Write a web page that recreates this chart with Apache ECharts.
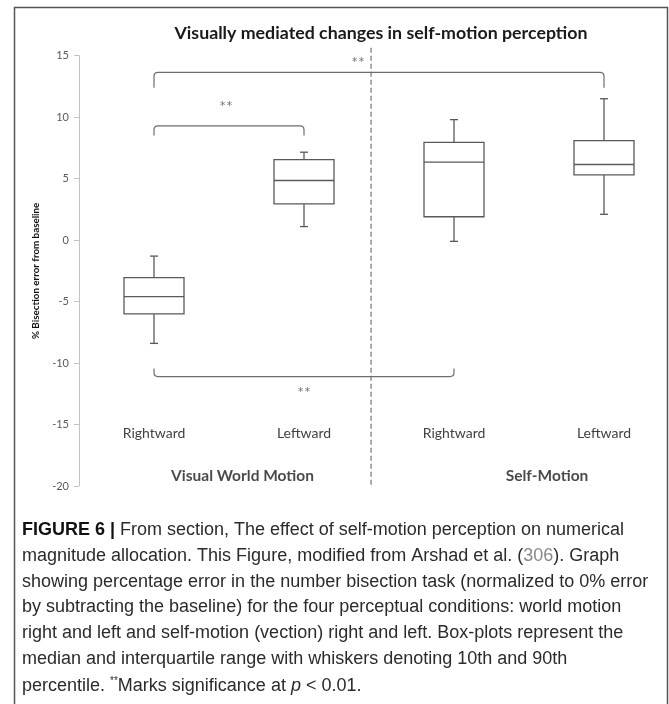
<!DOCTYPE html>
<html>
<head>
<meta charset="utf-8">
<script src="https://cdn.jsdelivr.net/npm/echarts@6/dist/echarts.min.js"></script>
<style>
  html, body { margin: 0; padding: 0; background: #fff; }
  #chart { width: 669px; height: 704px; }
</style>
</head>
<body>
<div id="chart"></div>
<script>
// Conditions, left to right
const categories = ['Rightward', 'Leftward', 'Rightward', 'Leftward'];
const groupNames = ['Visual World Motion', 'Self-Motion'];

// % bisection error from baseline: 10th pct, Q1, median, Q3, 90th pct
const p10    = [-8.4, 1.1, -0.1, 2.1];
const q1     = [-6.0, 2.95, 1.9, 5.3];
const median = [-4.6, 4.85, 6.35, 6.15];
const q3     = [-3.05, 6.55, 7.95, 8.1];
const p90    = [-1.3, 7.15, 9.8, 11.5];

// y axis ticks
const yTicks = [-20, -15, -10, -5, 0, 5, 10, 15];

// significance comparisons between conditions (category indices)
const comparisons = [
  { a: 0, b: 3, label: '**' },
  { a: 0, b: 1, label: '**' },
  { a: 0, b: 2, label: '**' }
];

// bracket layout in data units: bar level, tip level, label anchor
const bracketLayout = [
  { bar: 13.65, tip: 12.4, lx: 1.86, ly: 14.4 },
  { bar: 9.3, tip: 8.5, lx: 0.98, ly: 10.8 },
  { bar: -11.1, tip: -10.45, lx: 1.5, ly: -12.4 }
];

const lineColor = '#595959';
const uiFont = 'Lato, "Open Sans", sans-serif';

const boxData = categories.map((c, i) => [i, p10[i], q1[i], median[i], q3[i], p90[i]]);

function renderBox(params, api) {
  const i = api.value(0);
  const band = api.size([1, 0])[0];
  const half = band * 0.2;
  const cap = 4;
  const pLow = api.coord([i, api.value(1)]);
  const pQ1 = api.coord([i, api.value(2)]);
  const pMed = api.coord([i, api.value(3)]);
  const pQ3 = api.coord([i, api.value(4)]);
  const pHigh = api.coord([i, api.value(5)]);
  const x = pMed[0];
  const st = { stroke: lineColor, lineWidth: 1.3, fill: null };
  return {
    type: 'group',
    children: [
      { type: 'line', shape: { x1: x, y1: pQ3[1], x2: x, y2: pHigh[1] }, style: st },
      { type: 'line', shape: { x1: x, y1: pQ1[1], x2: x, y2: pLow[1] }, style: st },
      { type: 'line', shape: { x1: x - cap, y1: pHigh[1], x2: x + cap, y2: pHigh[1] }, style: st },
      { type: 'line', shape: { x1: x - cap, y1: pLow[1], x2: x + cap, y2: pLow[1] }, style: st },
      { type: 'rect', shape: { x: x - half, y: pQ3[1], width: half * 2, height: pQ1[1] - pQ3[1] },
        style: { stroke: lineColor, lineWidth: 1.3, fill: '#fff' } },
      { type: 'line', shape: { x1: x - half, y1: pMed[1], x2: x + half, y2: pMed[1] }, style: st }
    ]
  };
}

const bracketData = comparisons.map((c, k) => [c.a + 0.5, c.b + 0.5, bracketLayout[k].bar, bracketLayout[k].tip]);

function renderBracket(params, api) {
  const L = api.coord([api.value(0), api.value(2)]);
  const R = api.coord([api.value(1), api.value(2)]);
  const tipY = api.coord([api.value(0), api.value(3)])[1];
  const r = 4;
  const dir = tipY > L[1] ? 1 : -1;
  const path = [
    'M', L[0], tipY,
    'L', L[0], L[1] + dir * r,
    'Q', L[0], L[1], L[0] + r, L[1],
    'L', R[0] - r, R[1],
    'Q', R[0], R[1], R[0], R[1] + dir * r,
    'L', R[0], tipY
  ].join(' ');
  return {
    type: 'path',
    shape: { pathData: path },
    style: { stroke: '#6d6d6d', lineWidth: 1.2, fill: null }
  };
}

// caption lines below the chart
const captionLines = [
  '{b|FIGURE 6 |} From section, The effect of self-motion perception on numerical',
  'magnitude allocation. This Figure, modified from Arshad et al. ({l|306}). Graph',
  'showing percentage error in the number bisection task (normalized to 0% error',
  'by subtracting the baseline) for the four perceptual conditions: world motion',
  'right and left and self-motion (vection) right and left. Box-plots represent the',
  'median and interquartile range with whiskers denoting 10th and 90th',
  'percentile. {s|**}Marks significance at {i|p} < 0.01.'
];
const capFont = '"Liberation Sans", Arial, sans-serif';
const capSize = 18;
const captionGraphics = captionLines.map((t, k) => ({
  type: 'text',
  left: 22,
  top: 521 + k * 25.8,
  style: {
    text: t,
    font: capSize + 'px ' + capFont,
    fill: '#2b2b2b',
    rich: {
      b: { fontFamily: capFont, fontSize: capSize, fontWeight: 'bold', fill: '#111' },
      l: { fontFamily: capFont, fontSize: capSize, fill: '#888' },
      s: { fontFamily: capFont, fontSize: 10, fill: '#2b2b2b', verticalAlign: 'top', padding: [0, 0, 10, 0] },
      i: { fontFamily: capFont, fontSize: capSize, fontStyle: 'italic', fill: '#2b2b2b' }
    }
  }
}));

const chart = echarts.init(document.getElementById('chart'), null, { renderer: 'canvas' });

chart.setOption({
  backgroundColor: '#fff',
  animation: false,
  textStyle: { fontFamily: uiFont },
  grid: { left: 79, top: 55.7, width: 600, height: 430.3, containLabel: false, outerBoundsMode: 'none' },
  xAxis: [
    {
      type: 'category',
      data: categories,
      axisLine: { show: false },
      axisTick: { show: false },
      axisLabel: {
        interval: 0,
        margin: -53,
        verticalAlign: 'middle',
        color: '#404040',
        fontSize: 14,
        fontFamily: uiFont
      },
      splitLine: { show: false }
    },
    {
      type: 'value',
      min: 0,
      max: 4,
      show: false
    }
  ],
  yAxis: {
    type: 'value',
    min: yTicks[0],
    max: yTicks[yTicks.length - 1],
    interval: 5,
    axisLine: { show: true, lineStyle: { color: '#c4c4c4', width: 1 } },
    axisTick: { show: true, length: 5, lineStyle: { color: '#c4c4c4' } },
    axisLabel: {
      color: '#595959',
      fontSize: 11,
      margin: 10,
      fontFamily: uiFont,
      formatter: v => (yTicks.indexOf(v) >= 0 ? String(v) : '')
    },
    splitLine: { show: false },
    name: '% Bisection error from baseline',
    nameLocation: 'middle',
    nameGap: 31,
    nameTextStyle: { color: '#111', fontSize: 9.8, fontWeight: 'bold', fontFamily: uiFont }
  },
  graphic: [
    {
      type: 'text',
      x: 381,
      y: 33,
      style: {
        text: 'Visually mediated changes in self-motion perception',
        font: 'bold 17.8px ' + uiFont,
        fill: '#1a1a1a',
        textAlign: 'center',
        textVerticalAlign: 'middle'
      }
    },
    ...captionGraphics,
    {
      type: 'rect',
      shape: { x: 14.5, y: 7.5, width: 653, height: 720 },
      style: { fill: null, stroke: '#555', lineWidth: 1.5 },
      z: 100
    }
  ],
  series: [
    {
      type: 'line',
      xAxisIndex: 1,
      data: [[1.947, 15.65], [1.947, -20]],
      clip: false,
      symbol: 'none',
      lineStyle: { color: '#666', width: 1.1, type: [5, 3] },
      silent: true
    },
    {
      type: 'custom',
      xAxisIndex: 1,
      data: bracketData,
      renderItem: renderBracket,
      clip: false,
      silent: true
    },
    {
      type: 'custom',
      xAxisIndex: 0,
      data: boxData,
      encode: { x: 0, y: [1, 2, 3, 4, 5] },
      renderItem: renderBox,
      silent: true
    },
    {
      type: 'scatter',
      xAxisIndex: 1,
      symbolSize: 0,
      data: comparisons.map((c, k) => ({ value: [bracketLayout[k].lx, bracketLayout[k].ly], name: c.label })),
      label: {
        show: true,
        position: 'inside',
        formatter: p => p.name,
        color: '#555',
        fontSize: 16,
        fontFamily: uiFont
      },
      silent: true
    },
    {
      type: 'scatter',
      xAxisIndex: 1,
      symbolSize: 0,
      data: [
        { value: [1.09, -19.2], name: groupNames[0] },
        { value: [3.12, -19.2], name: groupNames[1] }
      ],
      label: {
        show: true,
        position: 'inside',
        formatter: p => p.name,
        color: '#1a1a1a',
        fontSize: 15.5,
        fontWeight: 'bold',
        fontFamily: uiFont
      },
      silent: true
    }
  ]
});
</script>
</body>
</html>
